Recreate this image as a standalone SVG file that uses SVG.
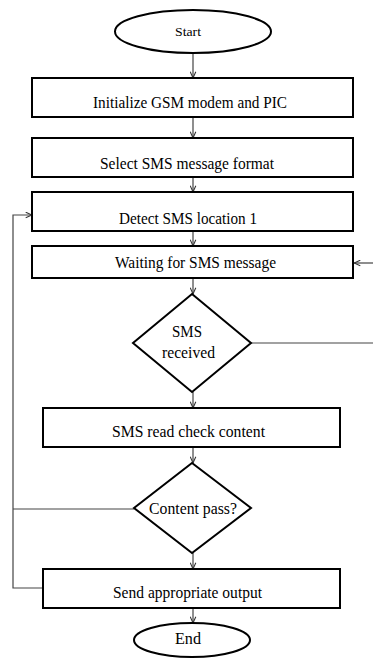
<svg xmlns="http://www.w3.org/2000/svg" width="373" height="659" viewBox="0 0 373 659">
<defs>
<marker id="arr" viewBox="0 0 10 10" refX="10" refY="5" markerWidth="7" markerHeight="7" orient="auto" markerUnits="userSpaceOnUse">
<path d="M1,1 L10,5 L1,9" fill="none" stroke="#333" stroke-width="1.5"/>
</marker>
<style>
.n{fill:#fff;stroke:#000;stroke-width:2}
.t{font-family:"Liberation Serif","Times New Roman",serif;font-size:17.5px;fill:#000;text-anchor:middle}
.s{font-size:13px}
.c{fill:none;stroke:#444;stroke-width:1.2}
</style>
</defs>
<rect width="373" height="659" fill="#fff"/>
<g id="connectors">
<line class="c" x1="193" y1="53" x2="193" y2="78" marker-end="url(#arr)"/>
<line class="c" x1="193" y1="117" x2="193" y2="138" marker-end="url(#arr)"/>
<line class="c" x1="193" y1="177" x2="193" y2="192" marker-end="url(#arr)"/>
<line class="c" x1="193" y1="231" x2="193" y2="246" marker-end="url(#arr)"/>
<line class="c" x1="193" y1="278" x2="193" y2="294" marker-end="url(#arr)"/>
<line class="c" x1="193" y1="392" x2="193" y2="408" marker-end="url(#arr)"/>
<line class="c" x1="193" y1="447" x2="193" y2="463" marker-end="url(#arr)"/>
<line class="c" x1="193" y1="553" x2="193" y2="569" marker-end="url(#arr)"/>
<line class="c" x1="193" y1="608" x2="193" y2="623" marker-end="url(#arr)"/>
<line class="c" x1="251" y1="343" x2="373" y2="343"/>
<line class="c" x1="373" y1="263" x2="354" y2="263" marker-end="url(#arr)"/>
<polyline class="c" points="43,588 13,588 13,215 32,215" marker-end="url(#arr)"/>
<line class="c" x1="134" y1="509" x2="13" y2="509"/>
</g>
<g id="start">
<ellipse class="n" cx="193" cy="31.5" rx="78" ry="21.5"/>
<text class="t s" x="188" y="36" textLength="26" lengthAdjust="spacingAndGlyphs">Start</text>
</g>
<g id="init">
<rect class="n" x="32" y="78" width="321" height="39"/>
<text class="t" x="190" y="108" textLength="194" lengthAdjust="spacingAndGlyphs">Initialize GSM modem and PIC</text>
</g>
<g id="select">
<rect class="n" x="32" y="138" width="321" height="39"/>
<text class="t" x="187" y="169" textLength="174" lengthAdjust="spacingAndGlyphs">Select SMS message format</text>
</g>
<g id="detect">
<rect class="n" x="32" y="192" width="321" height="39"/>
<text class="t" x="188" y="224" textLength="138" lengthAdjust="spacingAndGlyphs">Detect SMS location 1</text>
</g>
<g id="waiting">
<rect class="n" x="32" y="246" width="321" height="32"/>
<text class="t" x="195.5" y="268" textLength="161" lengthAdjust="spacingAndGlyphs">Waiting for SMS message</text>
</g>
<g id="received">
<polygon class="n" points="192,294 251,343 192,392 133,343"/>
<text class="t" x="187" y="337" textLength="30" lengthAdjust="spacingAndGlyphs">SMS</text>
<text class="t" x="188.5" y="358" textLength="53" lengthAdjust="spacingAndGlyphs">received</text>
</g>
<g id="read">
<rect class="n" x="43" y="408" width="297" height="39"/>
<text class="t" x="188.5" y="437" textLength="153" lengthAdjust="spacingAndGlyphs">SMS read check content</text>
</g>
<g id="pass">
<polygon class="n" points="192,463 251,508 192,553 134,508"/>
<text class="t" x="193" y="514" textLength="88" lengthAdjust="spacingAndGlyphs">Content pass?</text>
</g>
<g id="send">
<rect class="n" x="43" y="569" width="297" height="39"/>
<text class="t" x="187.5" y="598" textLength="149" lengthAdjust="spacingAndGlyphs">Send appropriate output</text>
</g>
<g id="end">
<ellipse class="n" cx="192" cy="640" rx="58" ry="17"/>
<text class="t" x="188" y="644" textLength="26" lengthAdjust="spacingAndGlyphs">End</text>
</g>
</svg>
